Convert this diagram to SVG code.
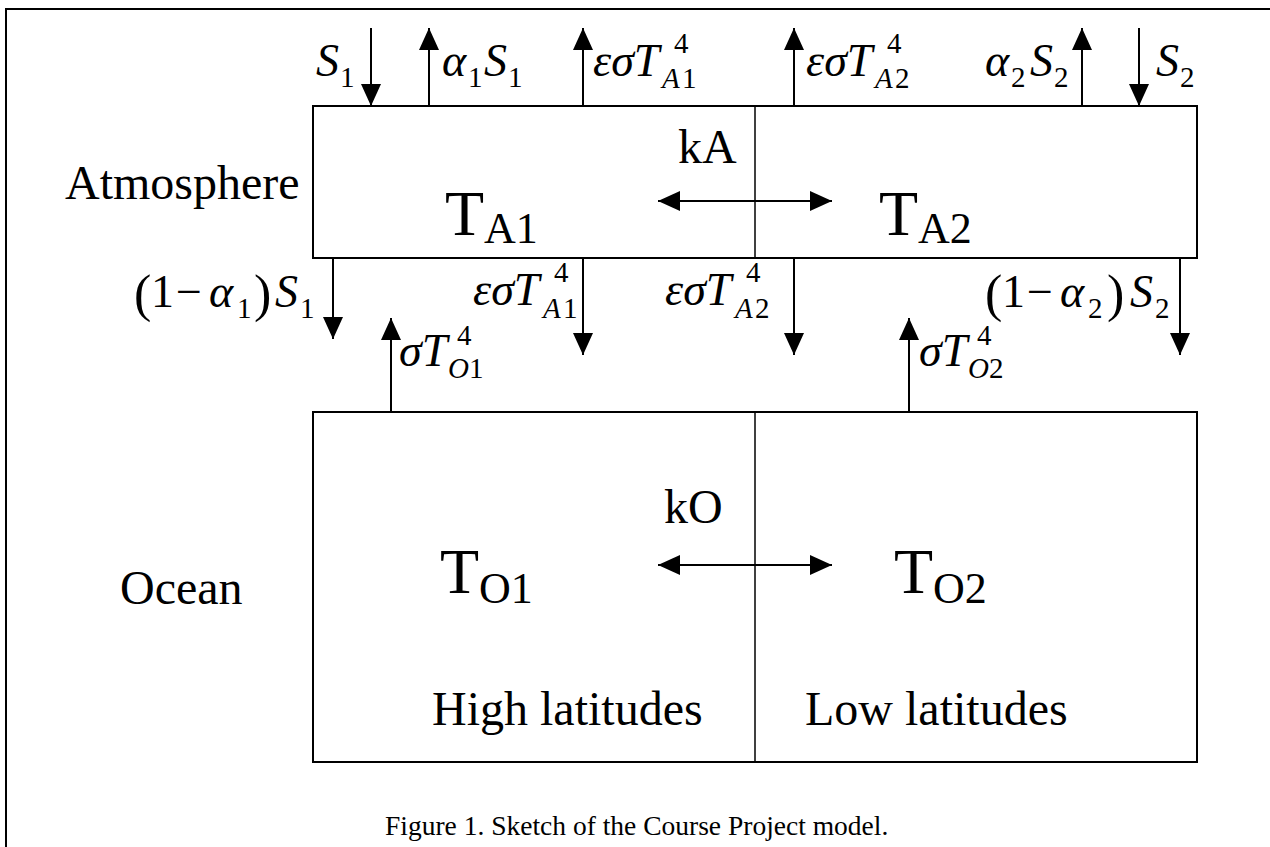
<svg xmlns="http://www.w3.org/2000/svg" width="1270" height="847" viewBox="0 0 1270 847">
<defs>
<style>
text{font-family:"Liberation Serif","Times New Roman",serif;fill:#000}
.i{font-style:italic}
.t{font-size:46px}
.s{font-size:29px}
.p{font-size:52px}
.lab{font-size:48px}
.big{font-size:64px}
.bsub{font-size:44px}
.box{fill:none;stroke:#000;stroke-width:2}
.div{stroke:#000;stroke-width:1.5}
.ar{stroke:#000;stroke-width:2;fill:none}
</style>
<marker id="ah" viewBox="0 0 22 20" refX="22" refY="10" markerWidth="22" markerHeight="20" markerUnits="userSpaceOnUse" orient="auto-start-reverse">
<path d="M0,0 L22,10 L0,20 Z" fill="#000"/>
</marker>
</defs>
<rect width="1270" height="847" fill="#fff"/>
<path d="M6,847 V9 H1270" fill="none" stroke="#000" stroke-width="2"/>

<g id="atmosphere">
<rect class="box" x="313" y="106" width="884" height="152"/>
<line class="div" x1="755" y1="106" x2="755" y2="258"/>
<text class="lab" x="65" y="199">Atmosphere</text>
<text class="big" x="445" y="235">T<tspan class="bsub" dy="8">A1</tspan></text>
<text class="big" x="879" y="235">T<tspan class="bsub" dy="8">A2</tspan></text>
<text class="lab" x="678" y="163">kA</text>
</g>

<g id="ocean">
<rect class="box" x="313" y="412" width="884" height="350"/>
<line class="div" x1="755" y1="412" x2="755" y2="762"/>
<text class="lab" x="120" y="604">Ocean</text>
<text class="big" x="440" y="593">T<tspan class="bsub" dy="10">O1</tspan></text>
<text class="big" x="894" y="593">T<tspan class="bsub" dy="10">O2</tspan></text>
<text class="lab" x="664" y="523">kO</text>
<text class="lab" x="432" y="725">High latitudes</text>
<text class="lab" x="805" y="725">Low latitudes</text>
</g>

<g id="connectors">
<line class="ar" x1="371" y1="28" x2="371" y2="106" marker-end="url(#ah)"/>
<line class="ar" x1="429" y1="106" x2="429" y2="28" marker-end="url(#ah)"/>
<line class="ar" x1="583" y1="106" x2="583" y2="28" marker-end="url(#ah)"/>
<line class="ar" x1="794" y1="106" x2="794" y2="28" marker-end="url(#ah)"/>
<line class="ar" x1="1082" y1="106" x2="1082" y2="28" marker-end="url(#ah)"/>
<line class="ar" x1="1139" y1="28" x2="1139" y2="106" marker-end="url(#ah)"/>
<line class="ar" x1="333" y1="258" x2="333" y2="339" marker-end="url(#ah)"/>
<line class="ar" x1="583" y1="258" x2="583" y2="355" marker-end="url(#ah)"/>
<line class="ar" x1="794" y1="258" x2="794" y2="355" marker-end="url(#ah)"/>
<line class="ar" x1="1180" y1="258" x2="1180" y2="355" marker-end="url(#ah)"/>
<line class="ar" x1="391" y1="412" x2="391" y2="318" marker-end="url(#ah)"/>
<line class="ar" x1="909" y1="412" x2="909" y2="318" marker-end="url(#ah)"/>
<line class="ar" x1="658" y1="201" x2="832" y2="201" marker-start="url(#ah)" marker-end="url(#ah)"/>
<line class="ar" x1="658" y1="565" x2="832" y2="565" marker-start="url(#ah)" marker-end="url(#ah)"/>
</g>

<g id="flux-labels">
<!-- top row -->
<text class="t i" x="316" y="76">S</text><text class="s" x="340" y="87">1</text>
<text class="t i" x="442" y="76">α</text><text class="s" x="468" y="87">1</text><text class="t i" x="484" y="76">S</text><text class="s" x="508" y="87">1</text>
<text class="t i" x="593" y="76">εσT</text><text class="s" x="674" y="53">4</text><text class="s i" x="662" y="88">A</text><text class="s" x="682" y="88">1</text>
<text class="t i" x="806" y="76">εσT</text><text class="s" x="887" y="53">4</text><text class="s i" x="875" y="88">A</text><text class="s" x="895" y="88">2</text>
<text class="t i" x="985" y="76">α</text><text class="s" x="1011" y="87">2</text><text class="t i" x="1030" y="76">S</text><text class="s" x="1054" y="87">2</text>
<text class="t i" x="1156" y="76">S</text><text class="s" x="1180" y="87">2</text>
<!-- atmosphere bottom row -->
<text class="p" x="134" y="311">(</text><text class="t" x="151" y="307">1</text><text class="t" x="176" y="307">−</text><text class="t i" x="209" y="307">α</text><text class="s" x="237" y="318">1</text><text class="p" x="254" y="311">)</text><text class="t i" x="275" y="307">S</text><text class="s" x="300" y="318">1</text>
<text class="t i" x="473" y="305">εσT</text><text class="s" x="554" y="282">4</text><text class="s i" x="543" y="318">A</text><text class="s" x="563" y="318">1</text>
<text class="t i" x="665" y="305">εσT</text><text class="s" x="746" y="282">4</text><text class="s i" x="735" y="318">A</text><text class="s" x="755" y="318">2</text>
<text class="p" x="985" y="311">(</text><text class="t" x="1002" y="307">1</text><text class="t" x="1027" y="307">−</text><text class="t i" x="1060" y="307">α</text><text class="s" x="1088" y="318">2</text><text class="p" x="1107" y="311">)</text><text class="t i" x="1130" y="307">S</text><text class="s" x="1155" y="318">2</text>
<!-- ocean upward -->
<text class="t i" x="399" y="366">σT</text><text class="s" x="457" y="345">4</text><text class="s i" x="448" y="378">O</text><text class="s" x="469" y="378">1</text>
<text class="t i" x="919" y="366">σT</text><text class="s" x="977" y="345">4</text><text class="s i" x="968" y="378">O</text><text class="s" x="989" y="378">2</text>
</g>

<text x="385" y="835" style="font-size:27.5px">Figure 1. Sketch of the Course Project model.</text>
</svg>
